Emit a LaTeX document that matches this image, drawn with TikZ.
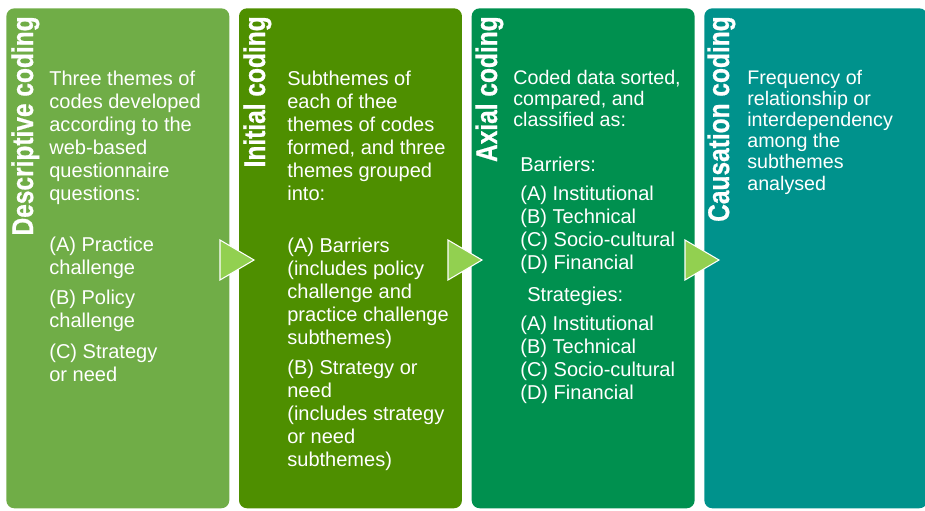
\documentclass[tikz,border=0pt]{standalone}
\usepackage{fontspec}
\setmainfont{Liberation Sans}
\newfontfamily\titlefont[FakeBold=0.8]{Liberation Sans Bold}
\usepackage{graphicx}
\usetikzlibrary{positioning}

\definecolor{descgreen}{HTML}{70AD47}
\definecolor{initgreen}{HTML}{4E8F00}
\definecolor{axialgreen}{HTML}{00904F}
\definecolor{causalteal}{HTML}{00928C}
\definecolor{arrowgreen}{HTML}{92D050}

\tikzset{
	stage/.style={rounded corners=4.5pt, inner sep=0, minimum width=4.46cm, minimum height=10cm},
	stagetitle/.style={text=white, inner sep=0, rotate=90, anchor=base east, font=\fontsize{17pt}{20pt}\titlefont},
	stagetext/.style={text=white, inner sep=0, anchor=north west, align=left, font=\fontsize{11.4pt}{13.1pt}\selectfont},
	stagetight/.style={stagetext, font=\fontsize{11.2pt}{12pt}\selectfont},
	flowarrow/.style={fill=arrowgreen, draw=white, line width=0.6pt}
}
\newcommand{\narrow}[1]{\scalebox{0.82}[1]{#1}}

\begin{document}
\begin{tikzpicture}[x=0.02cm, y=-0.02cm]
		%%%%% START %%%%%
		\useasboundingbox (0, 0) rectangle (925, 510);
		
		\node[stage, fill=descgreen, anchor=north west] (desc) at (6, 8) {};
		\node[stage, fill=initgreen, right=0.18cm of desc] (init) {};
		\node[stage, fill=axialgreen, right=0.18cm of init] (axial) {};
		\node[stage, fill=causalteal, right=0.18cm of axial] (causal) {};
		
		\node[stagetitle] (descT) at (33, 16) {\narrow{Descriptive coding}};
		\node[stagetitle] (initT) at (265, 16) {\narrow{Initial coding}};
		\node[stagetitle] (axialT) at (497, 16) {\narrow{Axial coding}};
		\node[stagetitle] (causalT) at (729, 16) {\narrow{Causation coding}};
		
		\node[stagetext] (descB) at (49, 71) {Three themes of\\ codes developed\\ according to the\\ web-based\\ questionnaire\\ questions:\\[15.4pt]
			(A) Practice\\ challenge\\[4.5pt] (B) Policy\\ challenge\\[4.5pt] (C) Strategy\\ or need};
		
		\node[stagetext] (initB) at (287, 71) {Subthemes of\\ each of thee\\ themes of codes\\ formed, and three\\ themes grouped\\ into:\\[16pt]
			(A) Barriers\\ (includes policy\\ challenge and\\ practice challenge\\ subthemes)\\[4pt]
			(B) Strategy or\\ need\\ (includes strategy\\ or need\\ subthemes)};
		
		\node[stagetight] (axialB) at (513, 70) {Coded data sorted,\\ compared, and\\ classified as:};
		\node[stagetext] (barH) at (520, 157) {Barriers:};
		\node[stagetext] (barL) at (520, 186) {(A) Institutional\\ (B) Technical\\ (C) Socio-cultural\\ (D) Financial};
		\node[stagetext] (strH) at (527, 287) {Strategies:};
		\node[stagetext] (strL) at (520, 316) {(A) Institutional\\ (B) Technical\\ (C) Socio-cultural\\ (D) Financial};
		
		\node[stagetight] (causalB) at (747, 70) {Frequency of\\ relationship or\\ interdependency\\ among the\\ subthemes\\ analysed};
		
		% arrows between the stages
		\foreach \bx in {220, 448, 685}
			\filldraw[flowarrow] (\bx, 240) -- (\bx+34, 260) -- (\bx, 280) -- cycle;
		%%%%% END %%%%%
\end{tikzpicture}
\end{document}
